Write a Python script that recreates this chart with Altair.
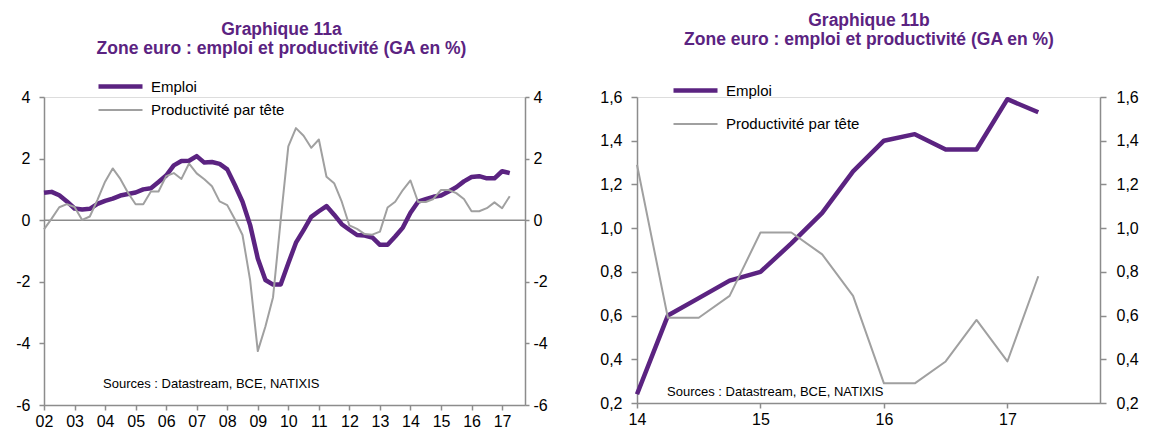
import altair as alt
import pandas as pd

PURPLE = "#5B2381"
GREY = "#A0A0A0"
AXIS = "#8C8C8C"
FONT = "Liberation Sans"

series_names = ["Emploi", "Productivité par tête"]
source_text = "Sources : Datastream, BCE, NATIXIS"
title_a = ["Graphique 11a", "Zone euro : emploi et productivité (GA en %)"]
title_b = ["Graphique 11b", "Zone euro : emploi et productivité (GA en %)"]

# quarterly, year-on-year growth (%), 2002Q1 .. 2017Q2
start_year = 2002
emploi = [
    0.89, 0.92, 0.81, 0.61, 0.38, 0.35, 0.37, 0.53,
    0.63, 0.70, 0.80, 0.85, 0.90, 1.00, 1.04, 1.24,
    1.45, 1.78, 1.92, 1.93, 2.08, 1.87, 1.89, 1.83,
    1.65, 1.14, 0.60, -0.16, -1.24, -1.94, -2.09, -2.09,
    -1.40, -0.73, -0.32, 0.11, 0.29, 0.46, 0.18, -0.13,
    -0.31, -0.48, -0.50, -0.56, -0.80, -0.80, -0.53, -0.24,
    0.24, 0.60, 0.68, 0.76, 0.80, 0.93, 1.07, 1.26,
    1.40, 1.43, 1.36, 1.36, 1.59, 1.53,
]
productivite = [
    -0.30, 0.05, 0.42, 0.52, 0.43, 0.01, 0.12, 0.66,
    1.25, 1.68, 1.34, 0.89, 0.52, 0.52, 0.93, 0.93,
    1.43, 1.53, 1.34, 1.84, 1.52, 1.33, 1.10, 0.61,
    0.49, 0.03, -0.48, -1.95, -4.25, -3.45, -2.50, 0.00,
    2.40, 2.99, 2.74, 2.35, 2.62, 1.41, 1.20, 0.60,
    -0.17, -0.28, -0.45, -0.47, -0.37, 0.41, 0.60, 0.98,
    1.29, 0.59, 0.59, 0.69, 0.98, 0.98, 0.88, 0.69,
    0.29, 0.29, 0.39, 0.58, 0.39, 0.78,
]

dates = [start_year + i / 4 for i in range(len(emploi))]
df = pd.DataFrame({
    "t": dates * 2,
    "serie": [series_names[0]] * len(emploi) + [series_names[1]] * len(productivite),
    "val": emploi + productivite,
})


def panel(data, x_dom, x_ticks, y_dom, y_ticks, w, h, title, ylab_expr,
          leg_x, leg_y, row_pad, src_x, src_y, zero_line,
          lpad_left, lpad_right, tick_left, tick_right, title_offset):
    x_axis = alt.Axis(values=x_ticks, labelExpr="substring(toString(datum.value), 2)",
                      grid=False, domainColor=AXIS, domainWidth=1.5, tickColor=AXIS,
                      tickWidth=1.5, tickSize=5, labelFontSize=16, labelColor="black",
                      labelFont=FONT, labelPadding=3, labelFlush=False, title=None)
    xs = alt.Scale(domain=x_dom, nice=False, zero=False)
    ys = alt.Scale(domain=y_dom, nice=False, zero=False)
    common_y_axis = dict(values=y_ticks, labelExpr=ylab_expr, grid=False,
                         domainColor=AXIS, domainWidth=1.5, tickColor=AXIS, tickWidth=1.5,
                         labelFontSize=16, labelColor="black", labelFont=FONT, title=None)
    leg = alt.Legend(orient="none", legendX=leg_x, legendY=leg_y, title=None,
                     symbolType="M-2,0H2", symbolSize=484, labelFontSize=15,
                     labelFont=FONT, labelColor="black", labelOffset=17,
                     rowPadding=row_pad, symbolFillColor="transparent")
    color = alt.Color("serie:N", scale=alt.Scale(domain=series_names, range=[PURPLE, GREY]),
                      legend=leg)
    sw = alt.StrokeWidth("serie:N", scale=alt.Scale(domain=series_names, range=[4.5, 2]),
                         legend=leg)

    layers = []
    if zero_line:
        layers.append(
            alt.Chart(pd.DataFrame({"y": [0]})).mark_rule(color=AXIS, strokeWidth=1.5)
            .encode(y=alt.Y("y:Q", scale=ys, axis=None))
        )
    l_emp = alt.Chart(data).transform_filter(alt.datum.serie == series_names[0]).mark_line(
        strokeJoin="round").encode(
        x=alt.X("t:Q", scale=xs, axis=x_axis),
        y=alt.Y("val:Q", scale=ys, axis=alt.Axis(orient="left", labelPadding=lpad_left,
                                                 tickSize=tick_left, **common_y_axis)),
        color=color, strokeWidth=sw,
    )
    l_prod = alt.Chart(data).transform_filter(alt.datum.serie == series_names[1]).mark_line(
        strokeJoin="round").encode(
        x=alt.X("t:Q", scale=xs, axis=x_axis),
        y=alt.Y("val:Q", scale=ys, axis=None),
        color=color, strokeWidth=sw,
    )
    r_axis = alt.Chart(data).mark_line(opacity=0).encode(
        x=alt.X("t:Q", scale=xs, axis=x_axis),
        y=alt.Y("val:Q", scale=ys, axis=alt.Axis(orient="right", labelPadding=lpad_right,
                                                 tickSize=tick_right, **common_y_axis)),
        detail="serie:N",
    )
    src = alt.Chart(pd.DataFrame({"s": [source_text]})).mark_text(
        align="left", baseline="middle", fontSize=13, font=FONT, color="black"
    ).encode(x=alt.value(src_x), y=alt.value(src_y), text="s:N")
    layers += [l_emp, l_prod, r_axis, src]
    return alt.layer(*layers).resolve_scale(y="independent").properties(
        width=w, height=h,
        title=alt.TitleParams(text=title, color=PURPLE, font=FONT, fontSize=17.5,
                              fontWeight="bold", anchor="middle", frame="bounds",
                              lineHeight=19, offset=title_offset),
    )


left = panel(df, [2002, 2017.75], list(range(2002, 2018)), [-6, 4], [-6, -4, -2, 0, 2, 4],
             481, 308, title_a, "toString(datum.value)",
             63, -24, 2, 59, 287, True, 9, 4, 5, 4, 16)
right_df = df[df["t"] >= 2014]
right = panel(right_df, [2014, 2017.75], list(range(2014, 2018)), [0.2, 1.6],
              [0.2, 0.4, 0.6, 0.8, 1.0, 1.2, 1.4, 1.6], 463, 306, title_b,
              "replace(format(datum.value, '.1f'), '.', ',')",
              45, -20, 12, 30, 295, False, 9, 10, 6, 6, 28.3)

chart = alt.hconcat(left, right, spacing=51).resolve_scale(
    color="independent", strokeWidth="independent"
).properties(
    padding={"left": 7, "top": 3, "right": 5, "bottom": 5}
).configure_view(stroke=None).configure(background="white")

chart.save("out.html", embed_options={"renderer": "svg", "actions": False})
